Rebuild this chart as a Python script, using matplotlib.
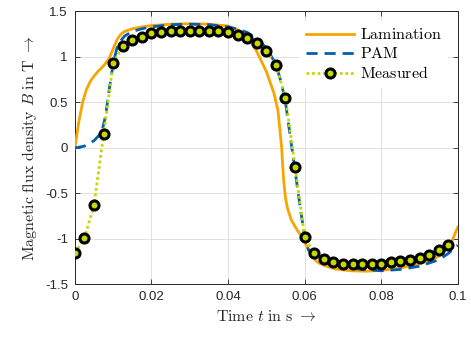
import matplotlib
matplotlib.use("Agg")
import matplotlib.pyplot as plt

plt.rcParams['mathtext.fontset'] = 'cm'
plt.rcParams['font.family'] = ['Liberation Sans', 'DejaVu Sans']

# Lamination model
lam_t = [0, 0.001, 0.002, 0.003, 0.004, 0.005, 0.006, 0.007, 0.008, 0.009,
         0.010, 0.011, 0.012, 0.013, 0.015, 0.0175, 0.02, 0.025, 0.03, 0.035,
         0.04, 0.0425, 0.045, 0.0475, 0.05, 0.052, 0.053, 0.0535, 0.054, 0.0545,
         0.055, 0.0555, 0.0565, 0.058, 0.0595, 0.061, 0.062, 0.0635, 0.065, 0.068,
         0.072, 0.076, 0.08, 0.085, 0.09, 0.093, 0.095, 0.097, 0.0985, 0.1]
lam_B = [0, 0.28, 0.5, 0.64, 0.73, 0.79, 0.84, 0.88, 0.93, 0.99,
         1.09, 1.19, 1.25, 1.28, 1.31, 1.33, 1.345, 1.36, 1.365, 1.36,
         1.34, 1.3, 1.22, 1.06, 0.84, 0.6, 0.42, 0.22, 0.0, -0.35,
         -0.55, -0.66, -0.79, -0.9, -0.99, -1.12, -1.2, -1.26, -1.29, -1.33,
         -1.35, -1.355, -1.345, -1.32, -1.27, -1.23, -1.19, -1.12, -1.02, -0.87]

# PAM model
pam_t = [0, 0.0025, 0.005, 0.007, 0.008, 0.009, 0.01, 0.011, 0.012, 0.013,
         0.015, 0.0175, 0.02, 0.025, 0.03, 0.035, 0.04, 0.0425, 0.045, 0.0475,
         0.05, 0.0525, 0.054, 0.055, 0.056, 0.057, 0.058, 0.059, 0.06, 0.061,
         0.0625, 0.065, 0.07, 0.075, 0.08, 0.085, 0.09, 0.095, 0.0975, 0.1]
pam_B = [0, 0.02, 0.08, 0.17, 0.35, 0.65, 0.93, 1.1, 1.18, 1.23,
         1.28, 1.31, 1.33, 1.355, 1.36, 1.355, 1.33, 1.305, 1.27, 1.2,
         1.1, 0.92, 0.7, 0.5, 0.2, -0.1, -0.4, -0.7, -0.97, -1.12,
         -1.2, -1.26, -1.31, -1.335, -1.35, -1.335, -1.3, -1.23, -1.16, -1.07]

# Measured
meas_t = [i * 0.0025 for i in range(40)]
meas_B = [-1.157, -0.99, -0.626, 0.15, 0.93, 1.12, 1.19, 1.22, 1.26, 1.27,
          1.28, 1.28, 1.29, 1.29, 1.285, 1.28, 1.27, 1.245, 1.205, 1.15,
          1.066, 0.91, 0.55, -0.205, -0.98, -1.157, -1.22, -1.256, -1.27, -1.28,
          -1.28, -1.28, -1.27, -1.25, -1.24, -1.23, -1.205, -1.18, -1.12, -1.066]

xticks = [0, 0.02, 0.04, 0.06, 0.08, 0.1]
xticklabels = ['0', '0.02', '0.04', '0.06', '0.08', '0.1']
yticks = [-1.5, -1, -0.5, 0, 0.5, 1, 1.5]
yticklabels = ['-1.5', '-1', '-0.5', '0', '0.5', '1', '1.5']

fig = plt.figure(figsize=(4.71, 3.37), dpi=100)
ax = fig.add_axes([0.159, 0.156, 0.813, 0.810])

ax.plot(lam_t, lam_B, color='#F7A500', lw=2.0, label=r'$\mathrm{Lamination}$', zorder=3)
ax.plot(pam_t, pam_B, color='#0060AD', lw=2.0, ls=(0, (4, 2.5)), label=r'$\mathrm{PAM}$', zorder=4)
ax.plot(meas_t, meas_B, color='#C5D800', lw=2.0, ls=(0, (1, 1)), marker='o',
        markersize=6.5, markerfacecolor='#C5D800', markeredgecolor='black',
        markeredgewidth=2.2, label=r'$\mathrm{Measured}$', zorder=5)

ax.set_xlim(0, 0.1)
ax.set_ylim(-1.5, 1.5)
ax.set_xticks(xticks)
ax.set_xticklabels(xticklabels)
ax.set_yticks(yticks)
ax.set_yticklabels(yticklabels)
ax.tick_params(direction='in', top=True, right=True, labelsize=9.5,
               colors='#262626', length=3.5, width=0.6, pad=5)
ax.grid(True, color='#DCDCDC', lw=0.6)
ax.set_axisbelow(True)
for s in ax.spines.values():
    s.set_color('#262626')
    s.set_linewidth(0.7)

ax.set_xlabel(r'$\mathrm{Time}\ t\ \mathrm{in\ s}\ \rightarrow$', fontsize=11.5, color='#262626')
ax.set_ylabel(r'$\mathrm{Magnetic\ flux\ density}\ B\ \mathrm{in\ T}\ \rightarrow$', fontsize=11.5, color='#262626')

leg = ax.legend(loc='upper right', frameon=True, fontsize=11.5, handlelength=3.0,
                labelspacing=0.25, borderaxespad=0.6, handletextpad=0.4)
leg.get_frame().set_edgecolor('none')
leg.get_frame().set_facecolor('white')
leg.get_frame().set_alpha(1.0)

fig.savefig('out.png', dpi=100)
